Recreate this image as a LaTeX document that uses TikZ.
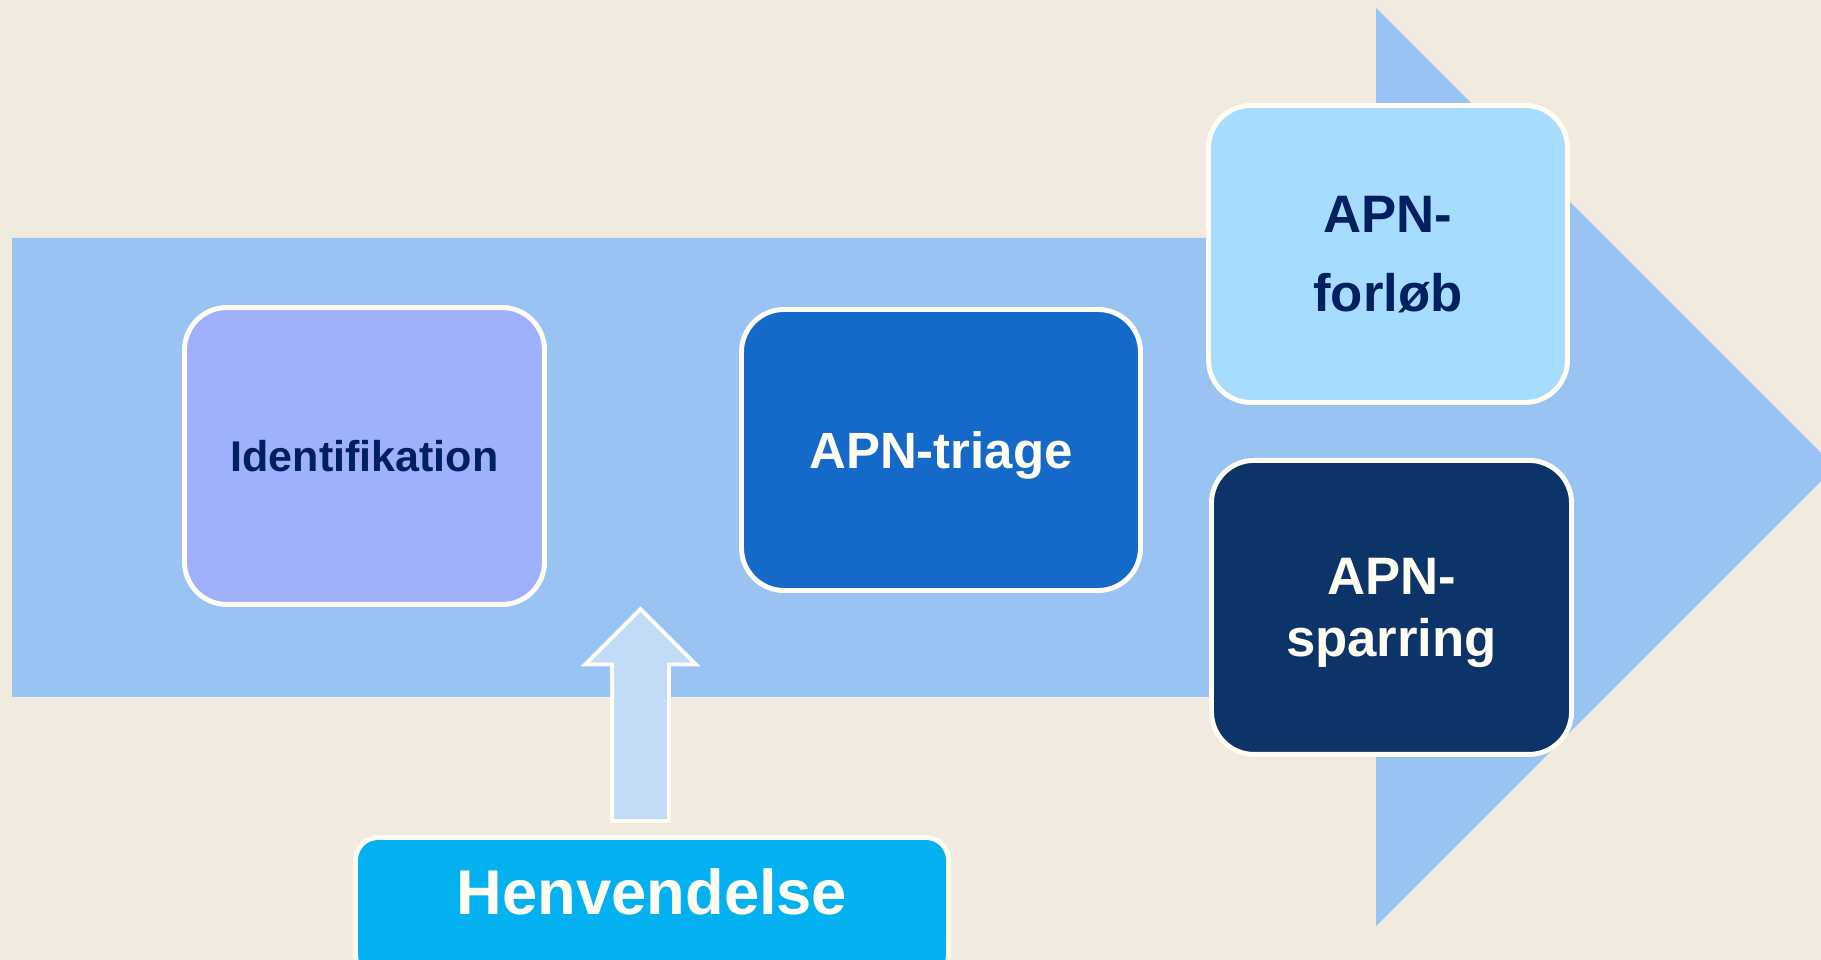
\documentclass[tikz,border=0pt]{standalone}
\usepackage{fontspec}
\setmainfont{Liberation Sans}
\usetikzlibrary{positioning, shapes.arrows, calc}
\definecolor{paper}{HTML}{F0EADF}
\definecolor{flowblue}{HTML}{99C3F3}
\definecolor{identblue}{HTML}{9FB1FC}
\definecolor{triageblue}{HTML}{1469C9}
\definecolor{forlobblue}{HTML}{A6DCFD}
\definecolor{sparringblue}{HTML}{0C3468}
\definecolor{henvblue}{HTML}{03B0F0}
\definecolor{inblue}{HTML}{C2DCF8}
\definecolor{navy}{HTML}{002060}
\definecolor{rim}{HTML}{FFFDF2}

\begin{document}
\begin{tikzpicture}[stage/.style={draw=rim, line width=2.8pt, rounded corners=0.85cm, align=center, inner sep=0pt, text depth=0pt, minimum width=7.2cm, minimum height=5.94cm},
    inarrow/.style={single arrow, draw=rim, fill=inblue, line width=2.2pt, minimum height=4.24cm, minimum width=2.2cm, single arrow head extend=0.54cm, inner xsep=0pt, inner ysep=0.53cm, rotate=90}]
    % Background and main flow arrow
    \fill[paper] (0,0) rectangle (36.42,19.2);
    \clip (0,0) rectangle (36.42,19.2);
    \fill[flowblue] (0.24,5.26) -- (0.24,14.44) -- (27.52,14.44) -- (27.52,19.04) -- (36.7,9.86) -- (27.52,0.68) -- (27.52,5.26) -- cycle;

    % Steps along the flow
    \node[stage, fill=identblue, text=navy, font=\bfseries\fontsize{24.5}{29}\selectfont] (ident) at (7.29,10.08) {Identifikation};
    \node[stage, fill=triageblue, text=rim, font=\bfseries\fontsize{29}{34}\selectfont, minimum width=7.98cm, minimum height=5.62cm] (triage) at (18.82,10.2) {APN-triage};

    % Outcomes
    \node[stage, fill=forlobblue, text=navy, font=\bfseries\fontsize{30}{45}\selectfont, minimum width=7.18cm] (forlob) at (27.76,14.12) {APN-\\forløb};
    \node[stage, fill=sparringblue, text=rim, font=\bfseries\fontsize{30}{35}\selectfont, minimum height=5.88cm] (sparring) [below=1.06cm of forlob, xshift=0.07cm] {APN-\\sparring};

    % Incoming request
    \node[stage, fill=henvblue, text=rim, font=\bfseries\fontsize{36}{42}\selectfont, rounded corners=0.45cm, minimum width=11.86cm, minimum height=2.8cm, text depth=0.62cm] (henv) at (13.04,1.05) {Henvendelse};
    \node[inarrow, anchor=tail] (inflow) at ($(henv.north)+(-0.23,0.24)$) {};
\end{tikzpicture}
\end{document}
